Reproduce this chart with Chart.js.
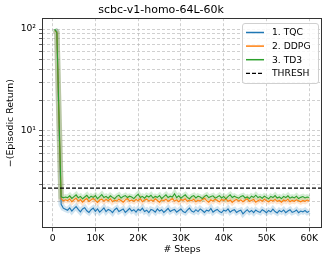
<!DOCTYPE html>
<html>
<head>
<meta charset="utf-8">
<script src="https://cdn.jsdelivr.net/npm/chart.js@4/dist/chart.umd.min.js"></script>
<style>
html,body{margin:0;padding:0;background:#fff;}
canvas{display:block;}
</style>
</head>
<body>
<canvas id="c" width="329" height="261"></canvas>
<script>
const title = "scbc-v1-homo-64L-60k";
const xLabel = "# Steps";
const yLabel = "\u2212(Episodic Return)";
const seriesNames = ["1. TQC", "2. DDPG", "3. TD3"];
const threshName = "THRESH";
const threshold = 2.74;
const xTicks = [0, 10000, 20000, 30000, 40000, 50000, 60000];
const xTickLabels = ["0", "10K", "20K", "30K", "40K", "50K", "60K"];
const yTicks = [2,3,4,5,6,7,8,9,10,20,30,40,50,60,70,80,90,100];
const yTickLabels = {10: "10\u00B9", 100: "10\u00B2"};

const steps = [500,1000,1500,2000,2500,3000,3500,4000,4500,5000,5500,6000,6500,7000,7500,8000,
8500,9000,9500,10000,10500,11000,11500,12000,12500,13000,13500,14000,14500,15000,15500,16000,16500,17000,17500,18000,
18500,19000,19500,20000,20500,21000,21500,22000,22500,23000,23500,24000,24500,25000,25500,26000,26500,27000,27500,28000,
28500,29000,29500,30000,30500,31000,31500,32000,32500,33000,33500,34000,34500,35000,35500,36000,36500,37000,37500,38000,
38500,39000,39500,40000,40500,41000,41500,42000,42500,43000,43500,44000,44500,45000,45500,46000,46500,47000,47500,48000,
48500,49000,49500,50000,50500,51000,51500,52000,52500,53000,53500,54000,54500,55000,55500,56000,56500,57000,57500,58000,
58500,59000,59500,60000];

const tqc = [98,94,12,1.9,1.74,1.70,
1.66,1.75,1.63,1.72,1.80,1.69,1.60,1.71,1.76,1.64,
1.58,1.68,1.74,1.62,1.71,1.59,1.66,1.75,1.61,1.69,
1.65,1.57,1.68,1.74,1.61,1.66,1.71,1.58,1.65,1.73,
1.63,1.68,1.59,1.70,1.65,1.74,1.61,1.66,1.57,1.69,
1.66,1.59,1.71,1.63,1.68,1.58,1.65,1.73,1.61,1.66,
1.69,1.59,1.65,1.71,1.61,1.57,1.66,1.74,1.63,1.59,
1.68,1.61,1.71,1.65,1.58,1.66,1.63,1.73,1.59,1.65,
1.69,1.61,1.57,1.66,1.63,1.71,1.59,1.65,1.68,1.58,
1.63,1.66,1.53,1.61,1.68,1.59,1.65,1.57,1.67,1.61,
1.58,1.68,1.63,1.57,1.65,1.60,1.70,1.61,1.56,1.65,
1.60,1.67,1.57,1.63,1.68,1.58,1.61,1.67,1.57,1.63,
1.60,1.65,1.58,1.62];

const ddpg = [97,93,13,2.15,2.05,2.10,
2.06,2.14,2.01,2.10,2.18,2.04,2.11,1.99,2.09,2.16,
2.02,2.10,2.17,2.06,1.98,2.09,2.13,2.03,2.12,2.06,
2.15,2.01,2.09,2.04,2.13,2.07,1.99,2.10,2.16,2.04,
2.09,2.03,2.12,2.06,2.16,2.01,2.09,2.13,2.04,2.10,
2.03,2.15,2.07,1.99,2.10,2.06,2.13,2.03,2.09,2.16,
2.04,2.10,2.01,2.12,2.07,2.15,2.03,2.09,2.06,2.13,
2.01,2.09,2.04,2.12,2.18,2.06,1.99,2.10,2.04,2.13,
2.07,2.01,2.12,2.06,2.15,2.03,2.09,1.98,2.07,2.12,
2.04,2.10,2.01,2.09,2.15,2.03,2.07,2.12,1.99,2.06,
2.10,2.03,2.13,2.06,2.01,2.09,2.04,2.12,2.03,2.07,
1.99,2.09,2.04,2.13,2.01,2.07,2.03,2.10,2.06,2.01,
2.07,2.03,2.09,2.04];

const td3 = [100,92,14,2.25,2.20,2.24,
2.21,2.30,2.17,2.26,2.35,2.20,2.27,2.15,2.24,2.33,
2.18,2.28,2.22,2.31,2.16,2.26,2.36,2.21,2.27,2.18,
2.30,2.22,2.15,2.27,2.33,2.19,2.26,2.31,2.21,2.28,
2.24,2.16,2.28,2.38,2.21,2.27,2.18,2.30,2.24,2.33,
2.19,2.27,2.22,2.31,2.16,2.26,2.35,2.21,2.28,2.24,
2.41,2.21,2.30,2.18,2.27,2.35,2.22,2.15,2.26,2.31,
2.19,2.28,2.24,2.16,2.27,2.33,2.21,2.26,2.30,2.18,
2.24,2.31,2.19,2.27,2.15,2.26,2.35,2.21,2.28,2.22,
2.18,2.27,2.31,2.19,2.24,2.16,2.28,2.22,2.33,2.21,
2.26,2.18,2.28,2.22,2.15,2.27,2.21,2.31,2.19,2.24,
2.16,2.27,2.21,2.30,2.18,2.24,2.19,2.28,2.16,2.22,
2.26,2.19,2.24,2.21];

const colors = ["#1f77b4", "#ff7f0e", "#2ca02c"];
const bandColors = ["rgba(31,119,180,0.2)", "rgba(255,127,14,0.2)", "rgba(44,160,44,0.2)"];
const X_MIN = -2475, X_MAX = 62975, Y_MIN = 1.11, Y_MAX = 128;

Chart.defaults.font.family = "'DejaVu Sans', sans-serif";
Chart.defaults.color = "#000";

const series = [tqc, ddpg, td3];
const pts = arr => steps.map((s, i) => ({x: s, y: arr[i]}));
const datasets = [];
series.forEach((arr, i) => {
  datasets.push({label: seriesNames[i] + " band", data: pts(arr), borderColor: bandColors[i],
    borderWidth: 5.5, pointRadius: 0, order: 20 - i, band: true});
});
series.forEach((arr, i) => {
  datasets.push({label: seriesNames[i], data: pts(arr), borderColor: colors[i],
    borderWidth: 1.1, pointRadius: 0, order: 10 - i});
});
datasets.push({label: threshName, data: [{x: X_MIN, y: threshold}, {x: X_MAX, y: threshold}],
  borderColor: "#000", borderWidth: 1.2, borderDash: [4, 2], pointRadius: 0, order: 0});

const gridColor = "rgba(176,176,176,0.75)";

const framePlugin = {
  id: "frameLegend",
  afterDraw(chart) {
    const ctx = chart.ctx, a = chart.chartArea;
    ctx.save();
    ctx.strokeStyle = "#333";
    ctx.lineWidth = 1;
    ctx.setLineDash([]);
    ctx.strokeRect(Math.round(a.left) + 0.5, Math.round(a.top) + 0.5,
      Math.round(a.right - a.left) - 1, Math.round(a.bottom - a.top) - 1);
    // legend box
    const bx = 242.5, by = 23.5, bw = 76, bh = 60, r = 2.5;
    ctx.beginPath();
    ctx.moveTo(bx + r, by);
    ctx.lineTo(bx + bw - r, by); ctx.arcTo(bx + bw, by, bx + bw, by + r, r);
    ctx.lineTo(bx + bw, by + bh - r); ctx.arcTo(bx + bw, by + bh, bx + bw - r, by + bh, r);
    ctx.lineTo(bx + r, by + bh); ctx.arcTo(bx, by + bh, bx, by + bh - r, r);
    ctx.lineTo(bx, by + r); ctx.arcTo(bx, by, bx + r, by, r);
    ctx.closePath();
    ctx.fillStyle = "rgba(255,255,255,0.85)";
    ctx.fill();
    ctx.strokeStyle = "#d0d0d0";
    ctx.lineWidth = 1;
    ctx.stroke();
    const items = [
      {t: seriesNames[0], c: colors[0], d: []},
      {t: seriesNames[1], c: colors[1], d: []},
      {t: seriesNames[2], c: colors[2], d: []},
      {t: threshName, c: "#000", d: [4, 2]}
    ];
    ctx.font = "9.2px 'DejaVu Sans'";
    ctx.textBaseline = "middle";
    ctx.textAlign = "left";
    items.forEach((it, k) => {
      const y = 32.5 + k * 13.6;
      ctx.beginPath();
      ctx.setLineDash(it.d);
      ctx.strokeStyle = it.c;
      ctx.lineWidth = it.d.length ? 1.2 : 1.5;
      ctx.moveTo(246, y); ctx.lineTo(264, y);
      ctx.stroke();
      ctx.setLineDash([]);
      ctx.fillStyle = "#000";
      ctx.fillText(it.t, 272, y + 0.5);
    });
    ctx.restore();
  }
};

new Chart(document.getElementById("c"), {
  type: "line",
  data: {datasets},
  plugins: [framePlugin],
  options: {
    responsive: false,
    animation: false,
    layout: {padding: {left: 0, right: 7, top: 0, bottom: 0}},
    plugins: {
      legend: {display: false},
      tooltip: {enabled: false},
      title: {display: true, text: title, font: {size: 11, weight: "normal"}, color: "#000",
        padding: {top: 4, bottom: 1}}
    },
    scales: {
      x: {
        type: "linear", min: X_MIN, max: X_MAX,
        afterFit: s => { s.height = 33; },
        afterBuildTicks: s => { s.ticks = xTicks.map(v => ({value: v})); },
        ticks: {autoSkip: false, maxRotation: 0, font: {size: 9.2}, color: "#000", padding: 2,
          callback: (v) => { const i = xTicks.indexOf(v); return i >= 0 ? xTickLabels[i] : ""; }},
        grid: {color: gridColor, lineWidth: 0.8, tickLength: 3.5, tickColor: "#333", tickWidth: 0.8},
        border: {display: false, dash: [3, 2]},
        title: {display: true, text: xLabel, font: {size: 9.4}, color: "#000", padding: {top: 0, bottom: 6}}
      },
      y: {
        type: "logarithmic", min: Y_MIN, max: Y_MAX,
        afterFit: s => { s.width = 42; },
        afterBuildTicks: s => { s.ticks = yTicks.map(v => ({value: v})); },
        ticks: {autoSkip: false, font: {size: 9.2}, color: "#000", padding: 3,
          callback: (v) => yTickLabels[v] || ""},
        grid: {color: gridColor, lineWidth: 0.8, tickLength: 3, tickColor: "#333", tickWidth: 0.8},
        border: {display: false, dash: [3, 2]},
        title: {display: true, text: yLabel, font: {size: 9.4}, color: "#000", padding: {top: 5, bottom: 0}}
      }
    },
    elements: {line: {tension: 0}}
  }
});
</script>
</body>
</html>
